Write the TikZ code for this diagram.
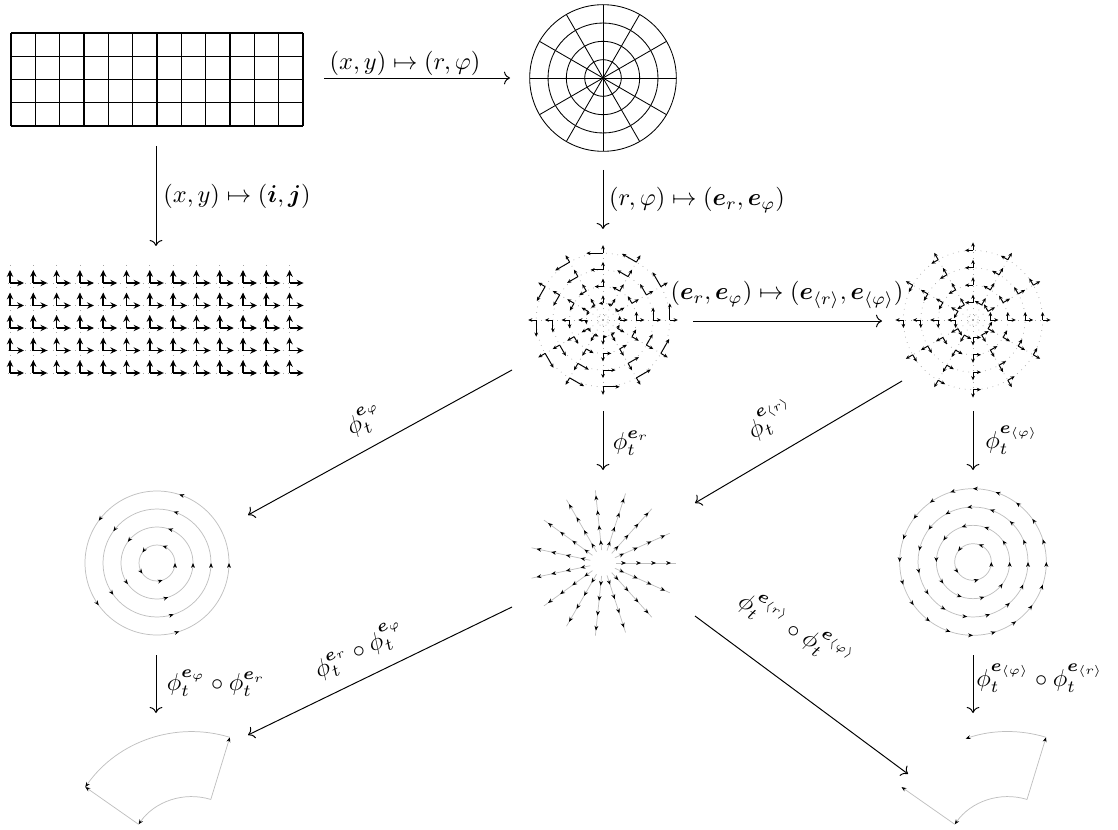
\documentclass[tikz,border=0pt]{standalone}
\usepackage{amsmath}
\usetikzlibrary{arrows.meta}
\newcommand{\bv}[1]{\boldsymbol{#1}}
\begin{document}
\begin{tikzpicture}[x=0.41pt,y=-0.41pt,
  conn/.style={->, line width=0.4pt},
  gridrect/.style={line width=0.55pt},
  polarline/.style={line width=0.35pt},
  vec/.style={-{Stealth[length=1.7pt,width=1.5pt]}, line width=0.4pt},
  bvec/.style={-{Stealth[length=2.8pt,width=2.6pt]}, line width=0.7pt},
  dotline/.style={gray!70, dotted, line width=0.3pt},
  flowline/.style={gray!50, line width=0.3pt},
  flowtip/.style={gray!50, line width=0.3pt, -{Stealth[length=2pt,width=1.6pt,color=black]}},
  lab/.style={inner sep=1pt}]
\useasboundingbox (0,0) rectangle (1118,830);

% ---------- top-left cartesian grid ----------
\coordinate (cart) at (157,80);
\foreach \i in {0,...,12} \draw[gridrect] ({11+24.333*\i},33) -- ({11+24.333*\i},126);
\foreach \j in {0,...,4} \draw[gridrect] (11,{33+23.25*\j}) -- (303,{33+23.25*\j});

% ---------- top polar grid ----------
\coordinate (polar) at (603,78);
\begin{scope}[shift={(603,78)}, yscale=-1]
  \foreach \k in {1,...,4} \draw[polarline] (0,0) circle ({18.33*\k});
  \foreach \m in {0,...,11} \draw[polarline] (0,0) -- ({30*\m}:73.3);
\end{scope}

% ---------- cartesian basis vectors ----------
\coordinate (cartvec) at (157,328);
\foreach \i in {0,...,12} \draw[dotline] ({10+23.3*\i},265) -- ({10+23.3*\i},375);
\foreach \j in {0,...,4} \draw[dotline] (8,{283+22.5*\j}) -- (305,{283+22.5*\j});
\foreach \i in {0,...,12}
  \foreach \j in {0,...,4} {
    \draw[bvec] ({10+23.3*\i},{283+22.5*\j}) -- ++(0,-13);
    \draw[bvec] ({10+23.3*\i},{283+22.5*\j}) -- ++(14,0);
  }

% ---------- polar coordinate basis ----------
\coordinate (polvec) at (603,320);
\begin{scope}[shift={(603,320)}, yscale=-1]
  \foreach \k in {1,...,4} \draw[dotline] (0,0) circle ({16.7*\k});
  \draw[dotline] (0,0) circle (5);
  \foreach \m in {0,...,11} \draw[dotline] (0,0) -- ({30*\m}:66.7);
  \foreach \k in {1,...,4}
    \foreach \m in {0,...,11} {
      \draw[vec] ({30*\m}:{16.7*\k}) -- ++({30*\m}:8);
      \draw[vec] ({30*\m}:{16.7*\k}) -- ++({30*\m+90}:{4.17*\k});
    }
\end{scope}

% ---------- orthonormal polar basis ----------
\coordinate (orthvec) at (973,320);
\begin{scope}[shift={(973,320)}, yscale=-1]
  \foreach \k in {1,...,4} \draw[dotline] (0,0) circle ({17.4*\k});
  \draw[dotline] (0,0) circle (5);
  \foreach \m in {0,...,11} \draw[dotline] (0,0) -- ({30*\m}:69.6);
  \foreach \k in {1,...,4}
    \foreach \m in {0,...,11} {
      \draw[vec] ({30*\m}:{17.4*\k}) -- ++({30*\m}:8);
      \draw[vec] ({30*\m}:{17.4*\k}) -- ++({30*\m+90}:8);
    }
\end{scope}

% ---------- flow of e_phi ----------
\coordinate (flowphi) at (157,563);
\begin{scope}[shift={(157,563)}, yscale=-1]
  \foreach \k in {1,...,4} {
    \draw[flowline] (0,0) circle ({18*\k});
    \foreach \m in {0,...,4}
      \draw[flowtip] ({72*\m}:{18*\k}) ++({72*\m-90}:5) -- ({72*\m}:{18*\k});
  }
\end{scope}

% ---------- flow of e_r ----------
\coordinate (flowr) at (603,563);
\begin{scope}[shift={(603,563)}, yscale=-1]
  \foreach \m in {0,...,14} {
    \draw[flowline] ({24*\m}:13) -- ({24*\m}:73);
    \foreach \r in {23,38,53,68}
      \draw[flowtip] ({24*\m}:{\r-5}) -- ({24*\m}:\r);
  }
\end{scope}

% ---------- flow of e_<phi> ----------
\coordinate (flowophi) at (973,562);
\begin{scope}[shift={(973,562)}, yscale=-1]
  \foreach \k in {1,...,4} {
    \draw[flowline] (0,0) circle ({18.33*\k});
    \pgfmathtruncatemacro\n{5*\k-1}
    \pgfmathsetmacro\da{72/\k}
    \foreach \m in {0,...,\n}
      \draw[flowtip] ({\da*\m}:{18.33*\k}) ++({\da*\m-90}:5) -- ({\da*\m}:{18.33*\k});
  }
\end{scope}

% ---------- commuting sector ----------
\begin{scope}[shift={(191.8,861.6)}, yscale=-1]
  \coordinate (LC) at (73:65);
  \coordinate (LB) at (73:130);
  \coordinate (LA) at (145:130);
  \coordinate (LD) at (145:65);
  \draw[flowtip] (LC) -- (LB);
  \draw[flowtip] (LB) arc[start angle=73, end angle=145, radius=130];
  \draw[flowtip] (LC) arc[start angle=73, end angle=145, radius=65];
  \draw[flowtip] (LD) -- (LA);
\end{scope}

% ---------- non-commuting sector ----------
\begin{scope}[shift={(1008,861.6)}, yscale=-1]
  \coordinate (RC) at (73:65);
  \coordinate (RB) at (73:130);
  \coordinate (RA) at (109:130);
  \coordinate (RD) at (145:65);
  \coordinate (RE) at (145:130);
  \draw[flowtip] (RC) -- (RB);
  \draw[flowtip] (RB) arc[start angle=73, end angle=109, radius=130];
  \draw[flowtip] (RC) arc[start angle=73, end angle=145, radius=65];
  \draw[flowtip] (RD) -- (RE);
\end{scope}

% ---------- connector end points ----------
\coordinate (a1s) at (324,78);  \coordinate (a1e) at (510,78);
\coordinate (a2s) at (156,146); \coordinate (a2e) at (156,246);
\coordinate (a3s) at (603,170); \coordinate (a3e) at (603,229);
\coordinate (a4s) at (693,321); \coordinate (a4e) at (882,321);
\coordinate (a5s) at (512,370); \coordinate (a5e) at (248,515);
\coordinate (a6s) at (603,411); \coordinate (a6e) at (603,470);
\coordinate (a7s) at (902,381); \coordinate (a7e) at (695,503);
\coordinate (a8s) at (973,411); \coordinate (a8e) at (973,470);
\coordinate (a9s) at (512,607); \coordinate (a9e) at (248,735);
\coordinate (a10s) at (695,616); \coordinate (a10e) at (908,774);
\coordinate (a11s) at (156,655); \coordinate (a11e) at (156,713);
\coordinate (a12s) at (973,655); \coordinate (a12e) at (973,713);

\foreach \n in {1,...,12} \draw[conn] (a\n s) -- (a\n e);

% ---------- labels ----------
\node[lab] (l1) at (405,63) {$(x,y)\mapsto(r,\varphi)$};
\node[lab] (l2) at (237,196) {$(x,y)\mapsto(\bv{i},\bv{j})$};
\node[lab] (l3) at (697,200) {$(r,\varphi)\mapsto(\bv{e}_r,\bv{e}_\varphi)$};
\node[lab] (l4) at (787,295) {$(\bv{e}_r,\bv{e}_\varphi)\mapsto(\bv{e}_{\langle r\rangle},\bv{e}_{\langle\varphi\rangle})$};
\node[lab, rotate=28.6] (l5) at (365,420) {$\phi_t^{\bv{e}_\varphi}$};
\node[lab] (l6) at (631,443) {$\phi_t^{\bv{e}_r}$};
\node[lab, rotate=31] (l7) at (771,419) {$\phi_t^{\bv{e}_{\langle r\rangle}}$};
\node[lab] (l8) at (1012,440) {$\phi_t^{\bv{e}_{\langle\varphi\rangle}}$};
\node[lab, rotate=26] (l9) at (360,650) {$\phi_t^{\bv{e}_r}\circ\phi_t^{\bv{e}_\varphi}$};
\node[lab, rotate=-30] (l10) at (796,630) {$\phi_t^{\bv{e}_{\langle r\rangle}}\circ\phi_t^{\bv{e}_{\langle\varphi\rangle}}$};
\node[lab] (l11) at (216,683) {$\phi_t^{\bv{e}_\varphi}\circ\phi_t^{\bv{e}_r}$};
\node[lab] (l12) at (1040,678) {$\phi_t^{\bv{e}_{\langle\varphi\rangle}}\circ\phi_t^{\bv{e}_{\langle r\rangle}}$};
\end{tikzpicture}
\end{document}
